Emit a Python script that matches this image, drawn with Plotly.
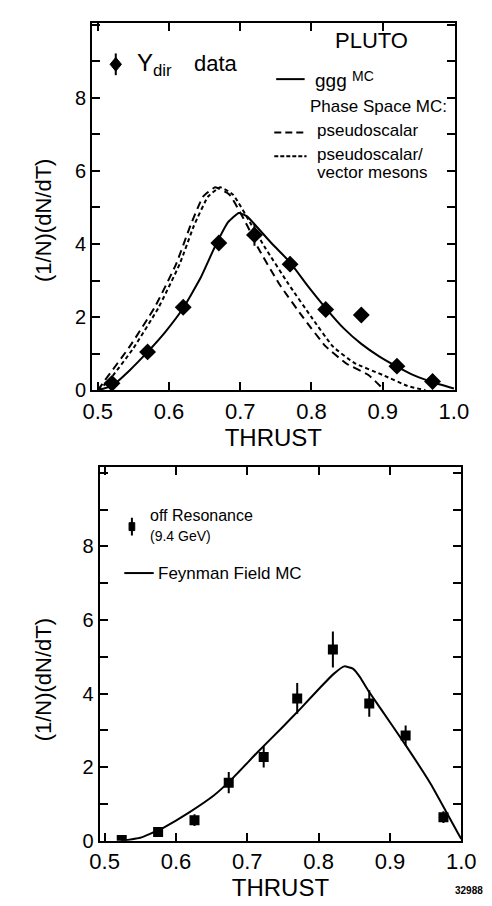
import plotly.graph_objs as go

# ---- top panel: Y direct photons (PLUTO) ----
t_data_x = [0.52, 0.57, 0.62, 0.67, 0.72, 0.77, 0.82, 0.87, 0.92, 0.97]
t_data_y = [0.19, 1.05, 2.27, 4.03, 4.25, 3.45, 2.21, 2.06, 0.66, 0.24]
t_data_err = [0.08, 0.08, 0.1, 0.15, 0.3, 0.2, 0.1, 0.1, 0.08, 0.08]

ggg_x = [0.50, 0.52, 0.545, 0.57, 0.595, 0.62, 0.645, 0.665, 0.683, 0.698, 0.71, 0.722, 0.745,
         0.77, 0.795, 0.82, 0.845, 0.87, 0.895, 0.92, 0.945, 0.97, 1.0]
ggg_y = [0.0, 0.12, 0.55, 1.05, 1.6, 2.25, 3.1, 3.95, 4.6, 4.85, 4.75, 4.5, 4.0,
         3.5, 2.85, 2.25, 1.7, 1.27, 0.93, 0.65, 0.4, 0.22, 0.05]

ps_x = [0.50, 0.51, 0.545, 0.58, 0.61, 0.63, 0.648, 0.665, 0.685, 0.71, 0.725, 0.755,
        0.788, 0.82, 0.85, 0.88, 0.90]
ps_y = [0.0, 0.27, 1.2, 2.27, 3.45, 4.5, 5.3, 5.55, 5.35, 4.5, 3.9, 2.9,
        2.0, 1.2, 0.72, 0.42, 0.05]

psv_x = [0.50, 0.515, 0.55, 0.585, 0.615, 0.635, 0.655, 0.672, 0.69, 0.715, 0.735, 0.768,
         0.80, 0.83, 0.86, 0.90, 0.935, 0.96]
psv_y = [0.0, 0.25, 1.15, 2.25, 3.45, 4.5, 5.3, 5.55, 5.35, 4.55, 3.9, 2.9,
         2.0, 1.2, 0.75, 0.42, 0.12, 0.0]

# ---- bottom panel: off resonance ----
b_data_x = [0.524, 0.575, 0.626, 0.674, 0.723, 0.77, 0.82, 0.871, 0.922, 0.975]
b_data_y = [0.02, 0.24, 0.56, 1.58, 2.28, 3.87, 5.2, 3.73, 2.86, 0.64]
b_data_err = [0.05, 0.1, 0.16, 0.29, 0.29, 0.42, 0.49, 0.36, 0.27, 0.16]

ff_x = [0.525, 0.55, 0.577, 0.60, 0.617, 0.653, 0.679, 0.714, 0.75, 0.775, 0.80, 0.822,
        0.836, 0.848, 0.858, 0.869, 0.886, 0.922, 0.957, 0.995, 1.0]
ff_y = [0.0, 0.08, 0.3, 0.55, 0.75, 1.23, 1.69, 2.4, 3.1, 3.6, 4.12, 4.55,
        4.74, 4.68, 4.45, 4.1, 3.62, 2.6, 1.55, 0.22, 0.05]

x_ticks = [0.5, 0.6, 0.7, 0.8, 0.9, 1.0]
x_ticktext = ['0.5', '0.6', '0.7', '0.8', '0.9', '1.0']
y_ticks = [0, 2, 4, 6, 8]

W = 492
H = 906
FONT = 'Liberation Sans'


def px(x):
	return x / W


def py(y):
	return 1 - y / H


def curve(x, y, ax, dash='solid'):
	return go.Scatter(x=x, y=y, mode='lines', xaxis='x' + ax, yaxis='y' + ax, showlegend=False,
					  line=dict(color='black', width=2, dash=dash, shape='spline', smoothing=0.4))


traces = []
traces.append(curve(ggg_x, ggg_y, ''))
traces.append(curve(ps_x, ps_y, '', '8px,5px'))
traces.append(curve(psv_x, psv_y, '', '4px,3px'))
traces.append(go.Scatter(x=t_data_x, y=t_data_y, mode='markers',
						 marker=dict(symbol='diamond', size=13, color='black'),
						 error_y=dict(type='data', array=t_data_err, color='black', thickness=2, width=0),
						 xaxis='x', yaxis='y', showlegend=False))

traces.append(curve(ff_x, ff_y, '2'))
traces.append(go.Scatter(x=b_data_x, y=b_data_y, mode='markers',
						 marker=dict(symbol='square', size=10, color='black'),
						 error_y=dict(type='data', array=b_data_err, color='black', thickness=2, width=0),
						 xaxis='x2', yaxis='y2', showlegend=False))


def xax(domain, rng, anchor):
	return dict(domain=domain, range=rng, anchor=anchor, tickvals=x_ticks, ticktext=x_ticktext,
				ticks='inside', ticklen=8, tickwidth=2, tickcolor='black', mirror='allticks',
				showline=True, linewidth=2, linecolor='black', showgrid=False, zeroline=False,
				tickfont=dict(family=FONT, size=22, color='black'),
				title=dict(text='THRUST', font=dict(family=FONT, size=24, color='black'), standoff=4))


def yax(domain, rng, anchor):
	return dict(domain=domain, range=rng, anchor=anchor, tickvals=y_ticks,
				ticks='inside', ticklen=8, tickwidth=2, tickcolor='black', mirror='allticks',
				minor=dict(dtick=1, ticks='inside', ticklen=8, tickwidth=2, tickcolor='black'),
				showline=True, linewidth=2, linecolor='black', showgrid=False, zeroline=False,
				tickfont=dict(family=FONT, size=20, color='black'))


def ann(x, y, text, size=17, xanchor='left'):
	return dict(x=px(x), y=py(y), xref='paper', yref='paper', text=text, showarrow=False,
				xanchor=xanchor, yanchor='middle', font=dict(family=FONT, size=size, color='black'))


def seg(x0, x1, y, dash='solid'):
	return dict(type='line', xref='paper', yref='paper', x0=px(x0), x1=px(x1), y0=py(y), y1=py(y),
				line=dict(color='black', width=2, dash=dash))


annotations = [
	ann(372, 33, 'PLUTO', 22, 'center'),
	ann(123, 57, 'Υ<sub>dir</sub>', 24),
	ann(183, 56, 'data', 22),
	ann(311, 73, 'ggg', 19),
	ann(350, 69, 'MC', 14),
	ann(305, 100, 'Phase Space MC:', 17),
	ann(313, 124, 'pseudoscalar', 17),
	ann(313, 148, 'pseudoscalar/', 17),
	ann(313, 167, 'vector mesons', 17),
	ann(27, 215, '(1/N)(dN/dT)', 22, 'center'),
	ann(137, 514, 'off Resonance', 16),
	ann(137, 534, '(9.4 GeV)', 14),
	ann(145, 572, 'Feynman Field MC', 17),
	ann(27, 680, '(1/N)(dN/dT)', 22, 'center'),
	dict(x=1, y=py(893), xref='paper', yref='paper', text='<b>32988</b>', showarrow=False,
		 xanchor='right', yanchor='middle', font=dict(family=FONT, size=10, color='black')),
]
# rotate y titles
annotations[9]['textangle'] = -90
annotations[13]['textangle'] = -90

shapes = [
	seg(272, 302, 72),
	seg(270, 304, 126, '7px,4px'),
	seg(270, 304, 150, '4px,2px'),
	seg(112, 143, 572),
	# legend keys for data points
	dict(type='path', xref='paper', yref='paper', fillcolor='black', line=dict(color='black', width=1),
		 path='M %f %f L %f %f L %f %f L %f %f Z' % (px(103), py(50), px(109), py(57), px(103), py(64), px(97), py(57))),
	dict(type='line', xref='paper', yref='paper', x0=px(103), x1=px(103), y0=py(46), y1=py(68),
		 line=dict(color='black', width=2)),
	dict(type='rect', xref='paper', yref='paper', fillcolor='black', line=dict(color='black', width=1),
		 x0=px(117), x1=px(123), y0=py(521), y1=py(529)),
	dict(type='line', xref='paper', yref='paper', x0=px(120), x1=px(120), y0=py(516), y1=py(534),
		 line=dict(color='black', width=2)),
]

fig = go.Figure(data=traces)
fig.update_layout(
	width=W, height=H,
	margin=dict(l=0, r=0, t=0, b=0),
	paper_bgcolor='white', plot_bgcolor='white',
	showlegend=False,
	xaxis=xax([78 / W, 460 / W], [0.492, 1.001], 'y'),
	yaxis=yax([1 - 387 / H, 1 - 15 / H], [0, 10.05], 'x'),
	xaxis2=xax([86 / W, 467 / W], [0.493, 1.0], 'y2'),
	yaxis2=yax([1 - 843 / H, 1 - 465 / H], [0, 10.15], 'x2'),
	annotations=annotations,
	shapes=shapes,
)

fig.write_html("out.html")
